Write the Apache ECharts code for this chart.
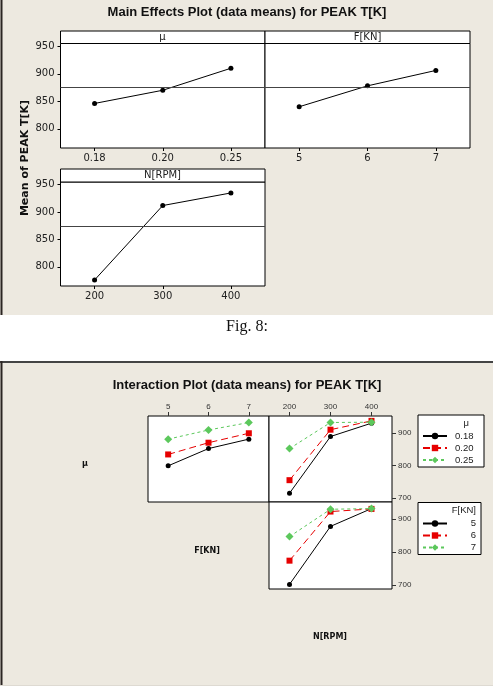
<!DOCTYPE html>
<html>
<head>
<meta charset="utf-8">
<script src="https://cdn.jsdelivr.net/npm/echarts@6/dist/echarts.min.js"></script>
<style>
  html, body { margin: 0; padding: 0; background: #fff; }
  #main { width: 498px; height: 690px; }
</style>
</head>
<body>
<div id="main"></div>
<script>
// factor levels
const muLevels = ["0.18", "0.20", "0.25"];
const fLevels = ["5", "6", "7"];
const nLevels = ["200", "300", "400"];

// main effects (means of PEAK T[K])
const muMeans = [846, 870, 910];
const fMeans = [840, 878, 906];
const nMeans = [776, 912, 935];
const mainTicks = [800, 850, 900, 950];

// interaction means, one row per level of the legend factor
const muByF = [
  [799, 852, 881],
  [834, 870, 899],
  [881, 909, 932],
];
const muByN = [
  [715, 889, 930],
  [755, 910, 937],
  [852, 932, 933],
];
const fByN = [
  [702, 878, 932],
  [774, 923, 931],
  [847, 930, 932],
];
const interTicks = [700, 800, 900];

const allMeans = muMeans.concat(fMeans, nMeans);
const grandMean = allMeans.reduce((a, b) => a + b, 0) / allMeans.length;

const BG = "#ede9e0";
const SANS = "DejaVu Sans";
const ARIAL = "Liberation Sans";

// black solid / red long dash / green short dash
const levelStyle = [
  { color: "#000000", symbol: "circle", size: 5, dash: "solid" },
  { color: "#e60000", symbol: "rect", size: 6, dash: [7, 4] },
  { color: "#5cc85c", symbol: "diamond", size: 8, dash: [3, 3] },
];

const chart = echarts.init(document.getElementById("main"));

function mainX(idx, data) {
  return {
    type: "category",
    gridIndex: idx,
    data: data,
    boundaryGap: true,
    axisLine: { show: false },
    axisTick: { show: true, length: 3, alignWithLabel: true, lineStyle: { color: "#000" } },
    axisLabel: { fontSize: 10, fontFamily: SANS, color: "#222", margin: 5 },
    splitLine: { show: false },
  };
}

function mainY(idx, showLabels) {
  return {
    type: "value",
    gridIndex: idx,
    min: 765,
    max: 955,
    axisLine: { show: false },
    axisTick: {
      show: showLabels,
      length: 3,
      customValues: mainTicks,
      lineStyle: { color: "#000" },
    },
    axisLabel: {
      show: showLabels,
      customValues: mainTicks,
      fontSize: 10,
      fontFamily: SANS,
      color: "#222",
      margin: 6,
    },
    splitLine: { show: false },
  };
}

function mainSeries(idx, data) {
  return {
    type: "line",
    xAxisIndex: idx,
    yAxisIndex: idx,
    data: data,
    symbol: "circle",
    symbolSize: 5,
    itemStyle: { color: "#000" },
    lineStyle: { color: "#000", width: 1 },
    silent: true,
    markLine: {
      silent: true,
      symbol: "none",
      label: { show: false },
      lineStyle: { color: "#444", width: 1, type: "solid" },
      data: [{ yAxis: grandMean }],
    },
  };
}

function interX(idx, data, showLabels) {
  return {
    type: "category",
    gridIndex: idx,
    position: "top",
    data: data,
    boundaryGap: true,
    axisLine: { show: false },
    axisTick: { show: showLabels, length: 4, alignWithLabel: true, lineStyle: { color: "#333" } },
    axisLabel: { show: showLabels, fontSize: 8, fontFamily: ARIAL, color: "#333", margin: 5 },
    splitLine: { show: false },
  };
}

function interY(idx, showLabels) {
  return {
    type: "value",
    gridIndex: idx,
    position: "right",
    min: 688,
    max: 952,
    axisLine: { show: false },
    axisTick: {
      show: showLabels,
      length: 4,
      customValues: interTicks,
      lineStyle: { color: "#333" },
    },
    axisLabel: {
      show: showLabels,
      customValues: interTicks,
      fontSize: 8,
      fontFamily: ARIAL,
      color: "#333",
      margin: 6,
    },
    splitLine: { show: false },
  };
}

function interSeries(idx, names, rows) {
  return rows.map((row, i) => ({
    name: names[i],
    type: "line",
    xAxisIndex: idx,
    yAxisIndex: idx,
    data: row,
    symbol: levelStyle[i].symbol,
    symbolSize: levelStyle[i].size,
    itemStyle: { color: levelStyle[i].color },
    lineStyle: { color: levelStyle[i].color, width: 1, type: levelStyle[i].dash },
    silent: true,
  }));
}

const gridBase = {
  show: true,
  backgroundColor: "#fff",
  borderColor: "#000",
  borderWidth: 1,
  outerBoundsMode: "none",
  containLabel: false,
};

function legendBox(names, top, align, pad) {
  return {
    data: names,
    orient: "vertical",
    left: 418,
    top: top,
    padding: [16, 5, 2, 4],
    itemWidth: 24,
    itemHeight: 8,
    itemGap: 2,
    selectedMode: false,
    backgroundColor: "#fff",
    borderColor: "#000",
    borderWidth: 1,
    borderRadius: 0,
    formatter: "{t|{name}}",
    textStyle: {
      fontSize: 9.5,
      fontFamily: ARIAL,
      color: "#222",
      lineHeight: 10,
      rich: {
        t: { fontSize: 9.5, fontFamily: ARIAL, color: "#222", lineHeight: 10, width: 24, align: align, padding: pad },
      },
    },
  };
}

const option = {
  backgroundColor: "#fff",
  animation: false,
  grid: [
    Object.assign({ left: 60.5, top: 43.5, width: 204.5, height: 104.5 }, gridBase),
    Object.assign({ left: 265, top: 43.5, width: 205, height: 104.5 }, gridBase),
    Object.assign({ left: 60.5, top: 182, width: 204.5, height: 104 }, gridBase),
    Object.assign({ left: 148, top: 416, width: 121, height: 86 }, gridBase),
    Object.assign({ left: 269, top: 416, width: 123, height: 86 }, gridBase),
    Object.assign({ left: 269, top: 502, width: 123, height: 87 }, gridBase),
  ],
  xAxis: [
    mainX(0, muLevels),
    mainX(1, fLevels),
    mainX(2, nLevels),
    interX(3, fLevels, true),
    interX(4, nLevels, true),
    interX(5, nLevels, false),
  ],
  yAxis: [
    mainY(0, true),
    mainY(1, false),
    mainY(2, true),
    interY(3, false),
    interY(4, true),
    interY(5, true),
  ],
  legend: [
    legendBox(muLevels, 415, "left", [0, 0, 0, 3]),
    legendBox(fLevels, 502.5, "right", [0, 0, 0, 0]),
  ],
  series: [
    mainSeries(0, muMeans),
    mainSeries(1, fMeans),
    mainSeries(2, nMeans),
  ]
    .concat(interSeries(3, muLevels, muByF))
    .concat(interSeries(4, muLevels, muByN))
    .concat(interSeries(5, fLevels, fByN)),
  graphic: [
    // panel backgrounds
    { type: "rect", z: -10, shape: { x: 0, y: 0, width: 493, height: 315 }, style: { fill: BG } },
    { type: "line", z: -5, shape: { x1: 1.5, y1: 0, x2: 1.5, y2: 315 }, style: { stroke: "#2b2522", lineWidth: 2 } },
    { type: "rect", z: -10, shape: { x: 0, y: 361, width: 493, height: 325 }, style: { fill: BG } },
    { type: "line", z: -5, shape: { x1: 0, y1: 362, x2: 493, y2: 362 }, style: { stroke: "#444", lineWidth: 2 } },
    { type: "line", z: -5, shape: { x1: 1.5, y1: 361, x2: 1.5, y2: 686 }, style: { stroke: "#2b2522", lineWidth: 2 } },
    { type: "line", z: -5, shape: { x1: 0, y1: 685.5, x2: 493, y2: 685.5 }, style: { stroke: "#dedad2", lineWidth: 1 } },

    // main effects title and strips
    {
      type: "text", x: 247, y: 12,
      style: { text: "Main Effects Plot (data means) for PEAK T[K]", font: "bold 13px " + ARIAL, fill: "#111", align: "center", verticalAlign: "middle" },
    },
    { type: "rect", shape: { x: 60.5, y: 31, width: 204.5, height: 12.5 }, style: { fill: "#fff", stroke: "#000", lineWidth: 1 } },
    { type: "rect", shape: { x: 265, y: 31, width: 205, height: 12.5 }, style: { fill: "#fff", stroke: "#000", lineWidth: 1 } },
    { type: "rect", shape: { x: 60.5, y: 169, width: 204.5, height: 13 }, style: { fill: "#fff", stroke: "#000", lineWidth: 1 } },
    { type: "text", x: 162.5, y: 37.5, style: { text: "μ", font: "10px " + SANS, fill: "#222", align: "center", verticalAlign: "middle" } },
    { type: "text", x: 367.5, y: 37.5, style: { text: "F[KN]", font: "10px " + SANS, fill: "#222", align: "center", verticalAlign: "middle" } },
    { type: "text", x: 162.5, y: 175.5, style: { text: "N[RPM]", font: "10px " + SANS, fill: "#222", align: "center", verticalAlign: "middle" } },
    {
      type: "text", x: 25, y: 158, rotation: Math.PI / 2,
      style: { text: "Mean of PEAK T[K]", font: "bold 11px " + SANS, fill: "#111", align: "center", verticalAlign: "middle" },
    },

    // caption
    { type: "text", x: 247, y: 327, style: { text: "Fig. 8:", font: "16px 'Liberation Serif'", fill: "#111", align: "center", verticalAlign: "middle" } },

    // interaction title, row labels, legend titles
    {
      type: "text", x: 247, y: 385,
      style: { text: "Interaction Plot (data means) for PEAK T[K]", font: "bold 13px " + ARIAL, fill: "#111", align: "center", verticalAlign: "middle" },
    },
    { type: "text", x: 85, y: 464, style: { text: "μ", font: "bold 8px " + SANS, fill: "#111", align: "center", verticalAlign: "middle" } },
    { type: "text", x: 207, y: 551, style: { text: "F[KN]", font: "bold 8px " + SANS, fill: "#111", align: "center", verticalAlign: "middle" } },
    { type: "text", x: 330, y: 637, style: { text: "N[RPM]", font: "bold 8px " + SANS, fill: "#111", align: "center", verticalAlign: "middle" } },
    { type: "text", z: 100, x: 469, y: 423, style: { text: "μ", font: "9.5px " + ARIAL, fill: "#222", align: "right", verticalAlign: "middle" } },
    { type: "text", z: 100, x: 476, y: 510.5, style: { text: "F[KN]", font: "9.5px " + ARIAL, fill: "#222", align: "right", verticalAlign: "middle" } },
  ],
};

chart.setOption(option);
</script>
</body>
</html>
